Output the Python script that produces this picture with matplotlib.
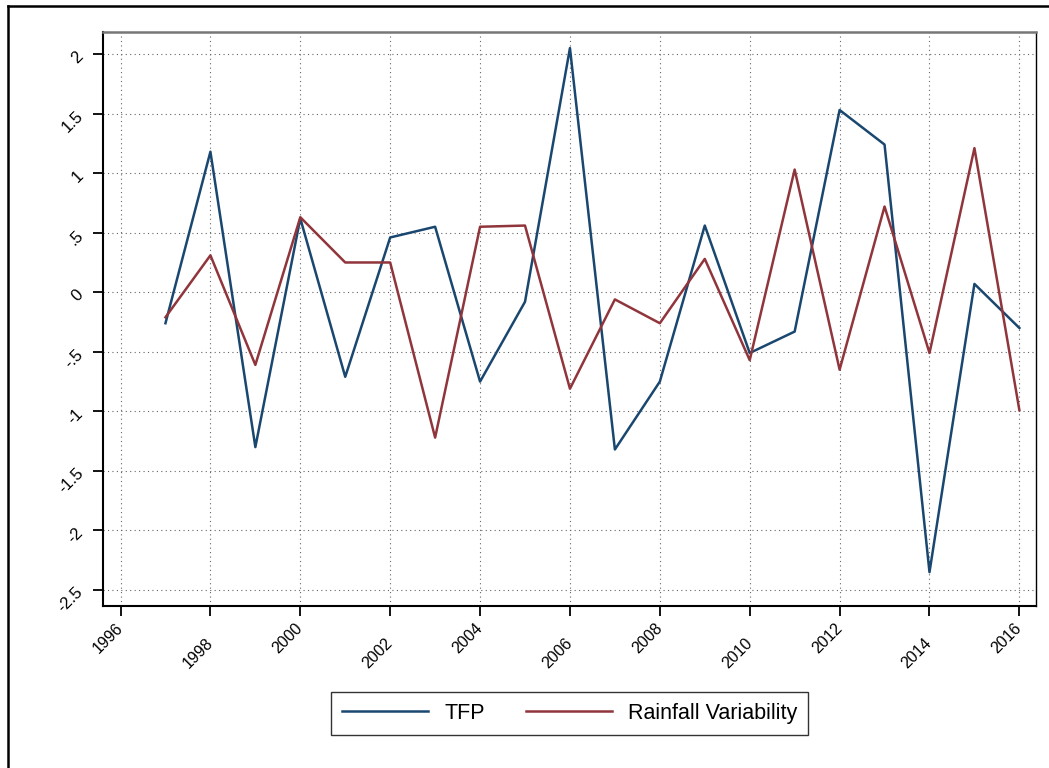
import matplotlib.pyplot as plt
from matplotlib.lines import Line2D

plt.rcParams['font.family'] = ['Liberation Sans', 'DejaVu Sans']

years = list(range(1997, 2017))
tfp = [-0.26, 1.18, -1.30, 0.62, -0.71, 0.46, 0.55, -0.75, -0.08, 2.05,
       -1.32, -0.75, 0.56, -0.51, -0.33, 1.53, 1.24, -2.35, 0.07, -0.30]
rain = [-0.21, 0.31, -0.61, 0.63, 0.25, 0.25, -1.22, 0.55, 0.56, -0.81,
        -0.06, -0.26, 0.28, -0.57, 1.03, -0.65, 0.72, -0.51, 1.21, -0.99]

xticks = list(range(1996, 2017, 2))
yticks = [2, 1.5, 1, 0.5, 0, -0.5, -1, -1.5, -2, -2.5]
ylabels = ['2', '1.5', '1', '.5', '0', '-.5', '-1', '-1.5', '-2', '-2.5']

W, H = 1049, 768
fig = plt.figure(figsize=(W / 100, H / 100), dpi=100)
ax = fig.add_axes([103 / W, 1 - 606 / H, (1036 - 103) / W, (606 - 32) / H])

ax.plot(years, tfp, color='#1a476f', lw=1.8, label='TFP')
ax.plot(years, rain, color='#90353b', lw=1.8, label='Rainfall Variability')

ax.set_xlim(1995.61, 2016.37)
ax.set_ylim(-2.634, 2.185)
ax.set_xticks(xticks)
ax.set_xticklabels([str(x) for x in xticks], rotation=45, ha='right',
                   va='center', rotation_mode='anchor', fontsize=11.5)
ax.set_yticks(yticks)
ax.set_yticklabels(ylabels, rotation=45, ha='right', va='center',
                   rotation_mode='anchor', fontsize=12)
ax.tick_params(length=7, width=1.3, color='black', direction='out')
ax.tick_params(axis='y', pad=9)
ax.tick_params(axis='x', pad=7)
# Stata staggers the angled year labels
for i, t in enumerate(ax.xaxis.get_major_ticks()):
    if i % 2 == 1:
        t.set_pad(18)
ax.grid(True, linestyle=(0, (1, 3)), color='#666666', lw=0.8)
ax.set_axisbelow(True)

ax.spines['left'].set_linewidth(1.5)
ax.spines['bottom'].set_linewidth(1.5)
ax.spines['top'].set_color('#777777')
ax.spines['top'].set_linewidth(1.8)
ax.spines['right'].set_linewidth(1.0)

leg = fig.legend(loc='center', bbox_to_anchor=(569.5 / W, 1 - 713.5 / H),
                 ncol=2, fontsize=15.5, frameon=True, fancybox=False,
                 edgecolor='black', handlelength=4.0, columnspacing=1.9,
                 handletextpad=0.75, borderpad=0.5)
leg.get_frame().set_linewidth(1.0)

# outer frame (cropped at right/bottom)
fig.add_artist(Line2D([8 / W, 8 / W], [0, 1 - 6 / H], color='black', lw=1.8,
                      transform=fig.transFigure))
fig.add_artist(Line2D([8 / W, 1], [1 - 6 / H, 1 - 6 / H], color='black',
                      lw=1.8, transform=fig.transFigure))

fig.savefig('out.png', dpi=100)
